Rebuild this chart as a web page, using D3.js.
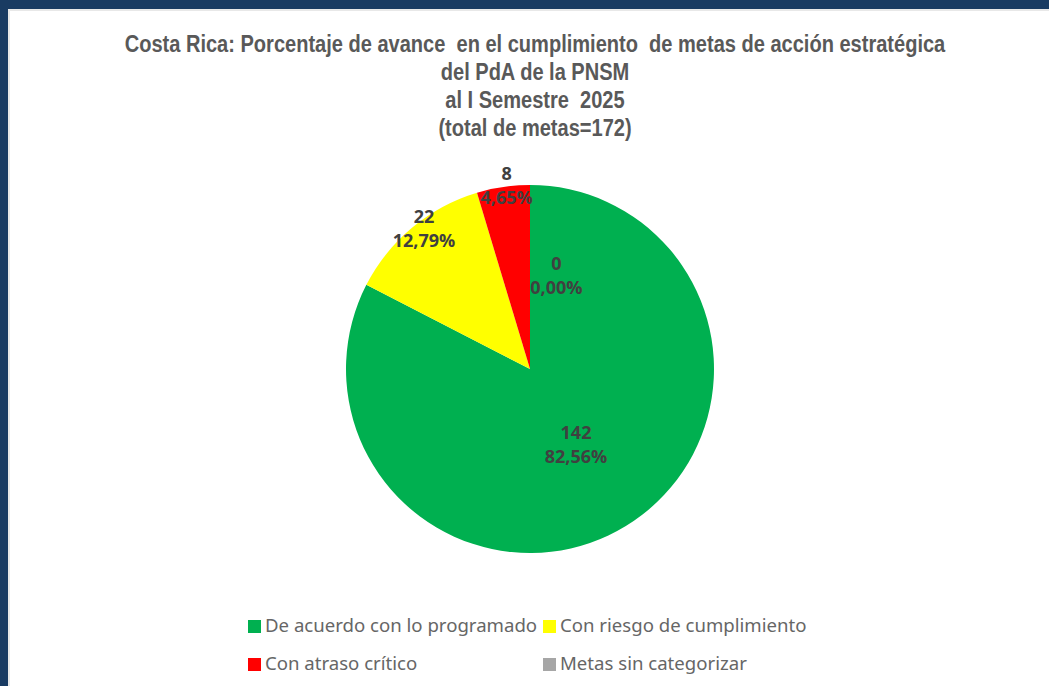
<!DOCTYPE html>
<html>
<head>
<meta charset="utf-8">
<script src="https://cdn.jsdelivr.net/npm/d3@7"></script>
<style>
  body { margin: 0; background: #fff; }
  svg { display: block; }
</style>
</head>
<body>
<svg></svg>
<script>
// Setting
const width = 1049;
const height = 686;

// Data
const titleLines = [
  "Costa Rica: Porcentaje de avance  en el cumplimiento  de metas de acción estratégica",
  "del PdA de la PNSM",
  "al I Semestre  2025",
  "(total de metas=172)"
];
const categories = ["De acuerdo con lo programado", "Con riesgo de cumplimiento", "Con atraso crítico", "Metas sin categorizar"];
const counts = [142, 22, 8, 0];
const percents = ["82,56%", "12,79%", "4,65%", "0,00%"];
const colors = ["#00B050", "#FFFF00", "#FF0000", "#A6A6A6"];

const svg = d3.select("svg")
  .attr("width", width)
  .attr("height", height);

// frame
svg.append("rect").attr("width", width).attr("height", height).attr("fill", "#193b62");
svg.append("rect").attr("x", 8).attr("y", 9).attr("width", width - 8).attr("height", height - 9).attr("fill", "#e8e8e8");
svg.append("rect").attr("x", 10).attr("y", 11).attr("width", width - 10).attr("height", height - 11).attr("fill", "#ffffff");

// title (narrow bold face imitated by squeezing a regular bold face)
const titleG = svg.append("g");
const title = titleG
  .selectAll("text")
  .data(titleLines)
  .enter()
  .append("text")
  .attr("x", 0)
  .attr("y", (d, i) => 52 + i * 28)
  .attr("text-anchor", "middle")
  .style("font-family", "'Liberation Sans', Arial, sans-serif")
  .style("font-weight", "bold")
  .style("font-size", "23.5px")
  .style("white-space", "pre")
  .style("fill", "#595959")
  .text(d => d);

const squeeze = 821 / title.node().getComputedTextLength();
titleG.attr("transform", `translate(535,0) scale(${squeeze},1)`);

// pie
const cx = 530, cy = 369, radius = 184;
const pie = d3.pie().sort(null).value(d => d);
const arcs = pie(counts);
const arc = d3.arc().innerRadius(0).outerRadius(radius);

const g = svg.append("g").attr("transform", `translate(${cx},${cy})`);

g.selectAll("path")
  .data(arcs)
  .enter()
  .append("path")
  .attr("d", arc)
  .attr("fill", (d, i) => colors[i]);

// label placement (best-fit style as in the original)
const labelR = [0.48, 0.96, 1.01, 0.53];
const labelShift = [0, 0.05, 0.02, 0.274];
const labelPos = (d, i) => {
  const a = (d.startAngle + d.endAngle) / 2 + labelShift[i];
  const r = radius * labelR[i];
  return [Math.sin(a) * r, -Math.cos(a) * r];
};

const labels = g.selectAll("g.lbl")
  .data(arcs)
  .enter()
  .append("g")
  .attr("class", "lbl")
  .attr("transform", (d, i) => `translate(${labelPos(d, i)})`);

labels.append("text")
  .attr("text-anchor", "middle")
  .attr("y", -5)
  .style("font-family", "'Open Sans', sans-serif")
  .style("font-weight", "bold")
  .style("font-size", "18px")
  .style("fill", "#404040")
  .text((d, i) => counts[i]);

labels.append("text")
  .attr("text-anchor", "middle")
  .attr("y", 19)
  .style("font-family", "'Open Sans', sans-serif")
  .style("font-weight", "bold")
  .style("font-size", "18px")
  .style("fill", "#404040")
  .text((d, i) => percents[i]);

// legend
const legend = svg.append("g").attr("transform", "translate(248, 632)");
const item = legend.selectAll("g")
  .data(categories)
  .enter()
  .append("g")
  .attr("transform", (d, i) => `translate(${(i % 2) * 295}, ${Math.floor(i / 2) * 38})`);

item.append("rect")
  .attr("y", -12)
  .attr("width", 13)
  .attr("height", 13)
  .attr("fill", (d, i) => colors[i]);

item.append("text")
  .attr("x", 17)
  .attr("y", 0)
  .style("font-family", "'Noto Sans', sans-serif")
  .style("font-size", "18.6px")
  .style("fill", "#666666")
  .text(d => d);
</script>
</body>
</html>
